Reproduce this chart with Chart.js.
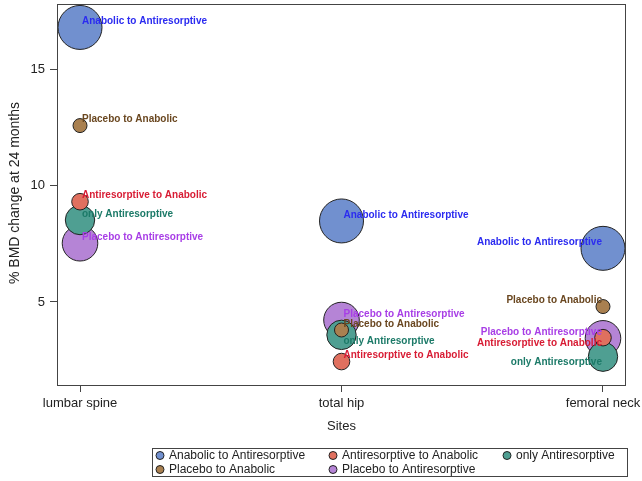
<!DOCTYPE html>
<html>
<head>
<meta charset="utf-8">
<script src="https://cdn.jsdelivr.net/npm/chart.js@4/dist/chart.umd.min.js"></script>
<style>
  html, body { margin: 0; padding: 0; background: #fff; }
  #wrap { width: 642px; height: 481px; position: relative; }
</style>
</head>
<body>
<div id="wrap"><canvas id="bmdChart" width="642" height="481"></canvas></div>
<script>
// Sites on the x axis
const sites = ['lumbar spine', 'total hip', 'femoral neck'];
const yTicks = [5, 10, 15];

// Treatment groups (legend order)
const groups = [
    'Anabolic to Antiresorptive',
    'Antiresorptive to Anabolic',
    'only Antiresorptive',
    'Placebo to Anabolic',
    'Placebo to Antiresorptive'
];

// % BMD change at 24 months, one value per site
const anabolicToAntiresorptive = [16.83, 8.49, 7.31];
const antiresorptiveToAnabolic = [9.32, 2.43, 3.46];
const onlyAntiresorptive = [8.53, 3.58, 2.64];
const placeboToAnabolic = [12.6, 3.79, 4.80];
const placeboToAntiresorptive = [7.53, 4.22, 3.43];

// bubble size per group
const bubbleRadius = [22, 8.3, 14.7, 7, 17.8];

const fillColors = ['#7190cf', '#e0705f', '#4f9f92', '#a98050', '#b584d6'];
const textColors = ['#2b2bf0', '#d81c34', '#1c7a68', '#6a4720', '#a83ee6'];

// labels drawn under the bubble instead of above it
const labelBelow = {
    'total hip': ['only Antiresorptive'],
    'femoral neck': ['Antiresorptive to Anabolic', 'only Antiresorptive']
};

const seriesValues = [
    anabolicToAntiresorptive,
    antiresorptiveToAnabolic,
    onlyAntiresorptive,
    placeboToAnabolic,
    placeboToAntiresorptive
];

const datasets = groups.map((name, i) => ({
    label: name,
    data: seriesValues[i].map((v, j) => ({ x: j, y: v, r: bubbleRadius[i] })),
    backgroundColor: fillColors[i],
    borderColor: '#222',
    borderWidth: 1,
    hoverRadius: 0,
    order: bubbleRadius[i] // big bubbles underneath
}));

const FONT = '"Liberation Sans", Arial, sans-serif';

// keep the plot box where the reference has it
function noPadding(scale) {
    scale.paddingTop = 0;
    scale.paddingBottom = 0;
    scale.paddingLeft = 0;
    scale.paddingRight = 0;
}

const decorPlugin = {
    id: 'decor',
    afterDatasetsDraw(chart) {
        const ctx = chart.ctx;
        const area = chart.chartArea;
        const xs = chart.scales.x;
        const ys = chart.scales.y;

        // data labels
        ctx.save();
        ctx.font = 'bold 10px ' + FONT;
        ctx.textBaseline = 'middle';
        chart.data.datasets.forEach((ds, i) => {
            ds.data.forEach((pt, j) => {
                const px = xs.getPixelForValue(pt.x);
                const py = ys.getPixelForValue(pt.y);
                const site = sites[j];
                const below = (labelBelow[site] || []).includes(ds.label);
                ctx.fillStyle = textColors[i];
                if (j === sites.length - 1) {
                    ctx.textAlign = 'right';
                    ctx.fillText(ds.label, px - 1, py + (below ? 6 : -6));
                } else {
                    ctx.textAlign = 'left';
                    ctx.fillText(ds.label, px + 2, py + (below ? 6 : -6));
                }
            });
        });
        ctx.restore();

        // frame
        ctx.save();
        ctx.strokeStyle = '#444';
        ctx.lineWidth = 1;
        ctx.strokeRect(Math.round(area.left) + 0.5, Math.round(area.top) + 0.5,
            Math.round(area.right - area.left) - 1, Math.round(area.bottom - area.top));
        ctx.restore();
    },
    afterDraw(chart) {
        const ctx = chart.ctx;
        const area = chart.chartArea;

        // axis titles
        ctx.save();
        ctx.fillStyle = '#222';
        ctx.textAlign = 'center';
        ctx.textBaseline = 'middle';
        ctx.font = '13px ' + FONT;
        ctx.fillText('Sites', (area.left + area.right) / 2, 426);
        ctx.font = '14px ' + FONT;
        ctx.translate(15, 193);
        ctx.rotate(-Math.PI / 2);
        ctx.fillText('% BMD change at 24 months', 0, 0);
        ctx.restore();

        // legend box
        ctx.save();
        ctx.strokeStyle = '#444';
        ctx.lineWidth = 1;
        ctx.strokeRect(152.5, 448.5, 475, 28);
        ctx.font = '12px ' + FONT;
        ctx.textAlign = 'left';
        ctx.textBaseline = 'middle';
        const colX = [160, 333, 507];
        const rowY = [455.5, 469.5];
        groups.forEach((name, i) => {
            const cx = colX[i % 3];
            const cy = rowY[Math.floor(i / 3)];
            ctx.beginPath();
            ctx.arc(cx, cy, 4, 0, Math.PI * 2);
            ctx.fillStyle = fillColors[i];
            ctx.fill();
            ctx.strokeStyle = '#222';
            ctx.stroke();
            ctx.fillStyle = '#222';
            ctx.fillText(name, cx + 9, cy);
        });
        ctx.restore();
    }
};

const ctx = document.getElementById('bmdChart').getContext('2d');
const bmdChart = new Chart(ctx, {
    type: 'bubble',
    data: { datasets: datasets },
    options: {
        responsive: false,
        animation: false,
        layout: { autoPadding: false, padding: { left: 0, right: 16, top: 4, bottom: 0 } },
        plugins: {
            legend: { display: false },
            tooltip: { enabled: false }
        },
        scales: {
            x: {
                type: 'linear',
                min: -0.088,
                max: 2.088,
                afterBuildTicks: scale => { scale.ticks = sites.map((s, i) => ({ value: i })); },
                afterFit: scale => { scale.height = 96; noPadding(scale); },
                border: { display: false },
                grid: { drawOnChartArea: false, tickLength: 7, color: '#444' },
                ticks: {
                    padding: 4,
                    color: '#222',
                    font: { family: FONT, size: 13 },
                    maxRotation: 0,
                    callback: value => sites[value]
                }
            },
            y: {
                type: 'linear',
                min: 1.42,
                max: 17.84,
                afterBuildTicks: scale => { scale.ticks = yTicks.map(v => ({ value: v })); },
                afterFit: scale => { scale.width = 57; noPadding(scale); },
                border: { display: false },
                grid: { drawOnChartArea: false, tickLength: 7, color: '#444' },
                ticks: {
                    padding: 5,
                    color: '#222',
                    font: { family: FONT, size: 13 }
                }
            }
        }
    },
    plugins: [decorPlugin]
});
</script>
</body>
</html>
